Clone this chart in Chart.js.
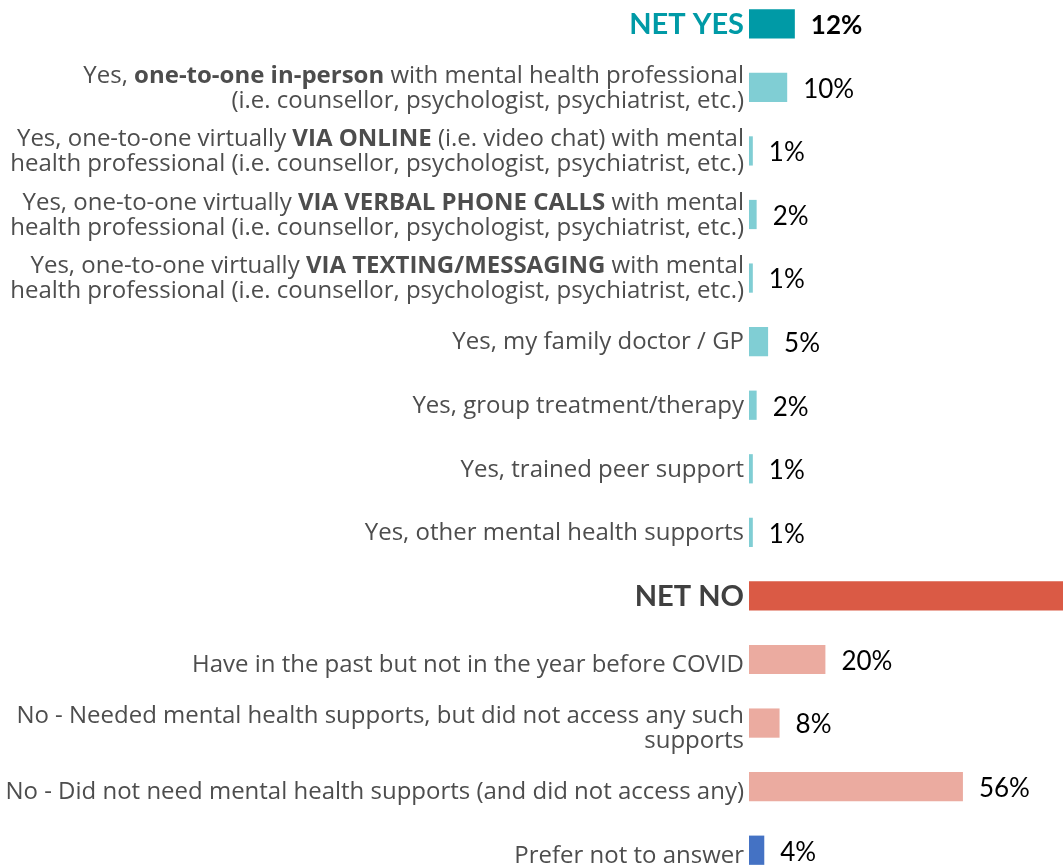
<!DOCTYPE html>
<html lang="en">
<head>
    <meta charset="UTF-8">
    <title>Mental health supports</title>
    <script src="https://cdn.jsdelivr.net/npm/chart.js@4.4.1/dist/chart.umd.min.js"></script>
    <style>
        html, body { margin: 0; padding: 0; background: #fff; overflow: hidden; }
        body { width: 1063px; height: 867px; position: relative; }
        .wrap { position: absolute; left: 0; top: -8px; }
    </style>
</head>
<body>
    <div class="wrap">
        <canvas id="myChart" width="1131" height="890"></canvas>
    </div>

    <script>
        // ** marks the bold part of a label, \n a line break
        var categories = [
            "NET YES",
            "Yes, **one-to-one in-person** with mental health professional\n(i.e. counsellor, psychologist, psychiatrist, etc.)",
            "Yes, one-to-one virtually **VIA ONLINE** (i.e. video chat) with mental\nhealth professional (i.e. counsellor, psychologist, psychiatrist, etc.)",
            "Yes, one-to-one virtually **VIA VERBAL PHONE CALLS** with mental\nhealth professional (i.e. counsellor, psychologist, psychiatrist, etc.)",
            "Yes, one-to-one virtually **VIA TEXTING/MESSAGING** with mental\nhealth professional (i.e. counsellor, psychologist, psychiatrist, etc.)",
            "Yes, my family doctor / GP",
            "Yes, group treatment/therapy",
            "Yes, trained peer support",
            "Yes, other mental health supports",
            "NET NO",
            "Have in the past but not in the year before COVID",
            "No - Needed mental health supports, but did not access any such\nsupports",
            "No - Did not need mental health supports (and did not access any)",
            "Prefer not to answer"
        ];
        var values = [12, 10, 1, 2, 1, 5, 2, 1, 1, 84, 20, 8, 56, 4];

        var barColors = ["#009aa6", "#80ced4", "#80ced4", "#80ced4", "#80ced4", "#80ced4", "#80ced4",
            "#80ced4", "#80ced4", "#da5a45", "#ebaba0", "#ebaba0", "#ebaba0", "#4472c4"];
        var headings = { 0: "#009aa6", 9: "#404040" };

        var labelFont = "'Open Sans', sans-serif";
        var valueFont = "Lato, sans-serif";
        var textGrey = "#4d4d4d";

        function lineWidth(ctx, line, size) {
            let total = 0;
            line.split("**").forEach((p, j) => {
                ctx.font = (j % 2 ? "bold " : "") + size + "px " + labelFont;
                total += ctx.measureText(p).width;
            });
            return total;
        }

        const sideLabels = {
            id: "sideLabels",
            afterDraw(chart) {
                const ctx = chart.ctx;
                const yScale = chart.scales.y;
                const right = chart.chartArea.left - 5;
                ctx.save();
                ctx.textBaseline = "middle";

                // fit the longest line to the space the reference uses
                let widest = 0;
                categories.forEach((cat, i) => {
                    if (headings[i]) return;
                    cat.split("\n").forEach(l => { widest = Math.max(widest, lineWidth(ctx, l, 22)); });
                });
                const size = Math.min(24, 22 * 739 / widest);

                categories.forEach((cat, i) => {
                    // the "no" block's labels sit a little lower in the original
                    const cy = yScale.getPixelForValue(i) + (i > 9 ? 6 : 1);
                    if (headings[i]) {
                        ctx.font = "bold 29px Lato, sans-serif";
                        ctx.fillStyle = headings[i];
                        ctx.textAlign = "right";
                        ctx.fillText(cat, right, cy);
                        return;
                    }
                    ctx.textAlign = "left";
                    const lines = cat.split("\n");
                    lines.forEach((line, k) => {
                        const ly = cy + (k - (lines.length - 1) / 2) * 25;
                        let x = right - lineWidth(ctx, line, size);
                        line.split("**").forEach((p, j) => {
                            ctx.font = (j % 2 ? "bold " : "") + size + "px " + labelFont;
                            ctx.fillStyle = textGrey;
                            ctx.fillText(p, x, ly);
                            x += ctx.measureText(p).width;
                        });
                    });
                });
                ctx.restore();
            }
        };

        const valueLabels = {
            id: "valueLabels",
            afterDatasetsDraw(chart) {
                const ctx = chart.ctx;
                const meta = chart.getDatasetMeta(0);
                ctx.save();
                ctx.textBaseline = "middle";
                ctx.textAlign = "left";
                ctx.fillStyle = "#000";
                meta.data.forEach((bar, i) => {
                    ctx.font = (i == 0 ? "bold " : "") + "26px " + valueFont;
                    ctx.fillText(values[i] + "%", bar.x + 16, bar.y + 2);
                });
                ctx.restore();
            }
        };

        new Chart("myChart", {
            type: "bar",
            data: {
                labels: categories,
                datasets: [{
                    data: values,
                    backgroundColor: barColors,
                    barPercentage: 0.46,
                    categoryPercentage: 1
                }]
            },
            options: {
                indexAxis: "y",
                responsive: false,
                animation: false,
                devicePixelRatio: 1,
                layout: { padding: { left: 749, right: 0, top: 0, bottom: 0 } },
                plugins: {
                    legend: { display: false },
                    tooltip: { enabled: false }
                },
                scales: {
                    x: { min: 0, max: 100, display: false },
                    y: { display: false }
                }
            },
            plugins: [sideLabels, valueLabels]
        });
    </script>
</body>
</html>
